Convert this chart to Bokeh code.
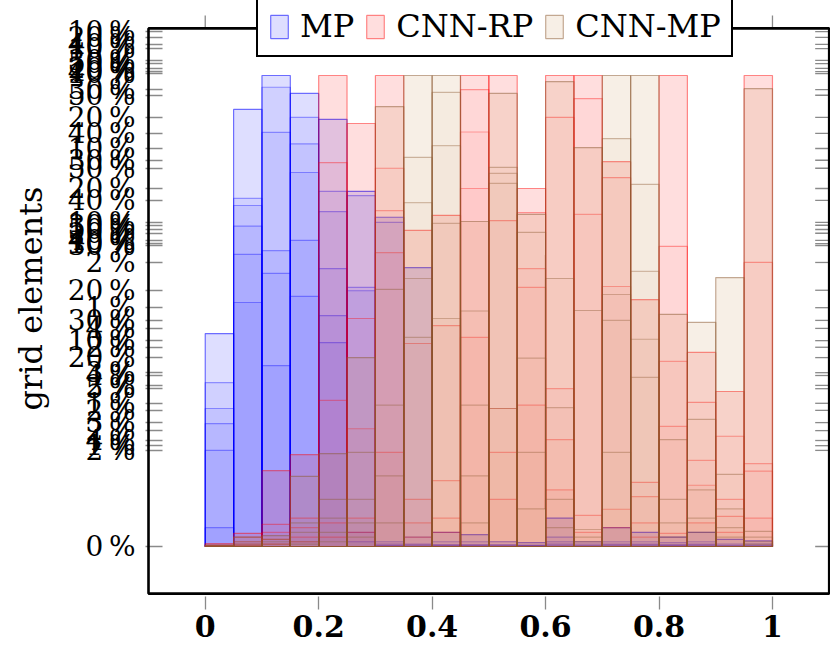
from bokeh.plotting import figure
from bokeh.models import (Range1d, LinearAxis, FixedTicker, Legend, LegendItem,
                          ColumnDataSource, BoxAnnotation)
from bokeh.embed import file_html
from bokeh.resources import INLINE

# ---------------- data ----------------
bin_left = [0.00, 0.05, 0.10, 0.15, 0.20, 0.25, 0.30, 0.35, 0.40, 0.45,
            0.50, 0.55, 0.60, 0.65, 0.70, 0.75, 0.80, 0.85, 0.90, 0.95]
bin_right = [0.05, 0.10, 0.15, 0.20, 0.25, 0.30, 0.35, 0.40, 0.45, 0.50,
             0.55, 0.60, 0.65, 0.70, 0.75, 0.80, 0.85, 0.90, 0.95, 1.00]

# MP layers (normalised share per bin)
mp_1 = [0.452, 0.928, 1.000, 0.962, 0.907, 0.754, 0.699, 0.592, 0.030, 0.025,
        0.010, 0.008, 0.060, 0.010, 0.040, 0.030, 0.020, 0.030, 0.015, 0.012]
mp_2 = [0.348, 0.739, 0.975, 0.911, 0.754, 0.745, 0.688, 0.020, 0.010, 0.010,
        0.004, 0.003, 0.020, 0.005, 0.010, 0.010, 0.008, 0.010, 0.005, 0.005]
mp_3 = [0.293, 0.724, 0.879, 0.855, 0.711, 0.550, 0.010, 0.005, 0.004, 0.004,
        0.002, 0.002, 0.010, 0.002, 0.005, 0.005, 0.004, 0.005, 0.002, 0.002]
mp_4 = [0.261, 0.680, 0.628, 0.794, 0.590, 0.543, 0.005, 0.003, 0.002, 0.002,
        0.001, 0.001, 0.005, 0.001, 0.003, 0.003, 0.002, 0.003, 0.001, 0.001]
mp_5 = [0.204, 0.620, 0.580, 0.650, 0.490, 0.030, 0.002, 0.001, 0.001, 0.001,
        0.000, 0.000, 0.002, 0.000, 0.001, 0.001, 0.001, 0.001, 0.000, 0.000]
mp_6 = [0.040, 0.518, 0.384, 0.531, 0.433, 0.010, 0.001, 0.000, 0.000, 0.000,
        0.000, 0.000, 0.000, 0.000, 0.000, 0.000, 0.000, 0.000, 0.000, 0.000]

# CNN-RP layers
rp_1 = [0.006, 0.028, 0.161, 0.195, 1.000, 0.898, 1.000, 0.671, 0.703, 1.000,
        1.000, 0.760, 1.000, 1.000, 0.817, 0.524, 1.000, 0.412, 0.329, 1.000]
rp_2 = [0.003, 0.020, 0.047, 0.060, 0.815, 0.484, 0.803, 0.431, 0.469, 0.970,
        0.692, 0.709, 0.911, 0.951, 0.783, 0.136, 0.637, 0.306, 0.234, 0.603]
rp_3 = [0.002, 0.010, 0.030, 0.040, 0.310, 0.250, 0.713, 0.100, 0.140, 0.880,
        0.293, 0.590, 0.335, 0.705, 0.552, 0.106, 0.393, 0.183, 0.100, 0.176]
rp_4 = [0.001, 0.005, 0.015, 0.020, 0.050, 0.060, 0.624, 0.050, 0.060, 0.760,
        0.200, 0.550, 0.227, 0.066, 0.079, 0.050, 0.255, 0.130, 0.064, 0.160]
rp_5 = [0.000, 0.002, 0.005, 0.010, 0.020, 0.030, 0.200, 0.020, 0.030, 0.444,
        0.100, 0.300, 0.120, 0.030, 0.040, 0.020, 0.028, 0.050, 0.030, 0.060]

# CNN-MP layers
cm_1 = [0.003, 0.020, 0.023, 0.149, 0.197, 0.401, 0.934, 1.000, 1.000, 0.690,
        0.962, 0.705, 0.987, 0.847, 1.000, 1.000, 0.493, 0.476, 0.571, 0.972]
cm_2 = [0.002, 0.010, 0.015, 0.050, 0.100, 0.200, 0.546, 0.826, 0.964, 0.500,
        0.805, 0.667, 0.569, 0.501, 0.866, 0.769, 0.227, 0.270, 0.153, 0.032]
cm_3 = [0.001, 0.005, 0.010, 0.030, 0.060, 0.100, 0.300, 0.730, 0.851, 0.300,
        0.792, 0.400, 0.295, 0.036, 0.535, 0.584, 0.100, 0.120, 0.080, 0.020]
cm_4 = [0.000, 0.002, 0.005, 0.010, 0.030, 0.050, 0.150, 0.569, 0.686, 0.150,
        0.771, 0.200, 0.100, 0.020, 0.480, 0.440, 0.050, 0.060, 0.040, 0.010]
cm_5 = [0.000, 0.000, 0.000, 0.005, 0.010, 0.020, 0.050, 0.444, 0.484, 0.050,
        0.293, 0.080, 0.040, 0.010, 0.200, 0.359, 0.020, 0.030, 0.020, 0.005]

series_names = ["MP", "CNN-RP", "CNN-MP"]
series_layers = [[mp_1, mp_2, mp_3, mp_4, mp_5, mp_6],
                 [rp_1, rp_2, rp_3, rp_4, rp_5],
                 [cm_1, cm_2, cm_3, cm_4, cm_5]]

# y tick positions (overlapping axes of the original) and their labels
y_tick_values = [0.0, 0.204, 0.214, 0.225, 0.246, 0.263, 0.289, 0.304, 0.335, 0.342,
                 0.363, 0.369, 0.401, 0.423, 0.437, 0.463, 0.480, 0.507, 0.544, 0.603,
                 0.639, 0.643, 0.650, 0.665, 0.673, 0.682, 0.688, 0.735, 0.760, 0.803,
                 0.820, 0.845, 0.877, 0.911, 0.958, 0.970, 1.004, 1.008, 1.015, 1.025,
                 1.032, 1.057, 1.066, 1.081, 1.093]
y_tick_labels = ["0\u2009%", "2\u2009%", "1\u2009%", "4\u2009%", "2\u2009%", "3\u2009%", "2\u2009%", "1\u2009%", "5\u2009%", "2\u2009%",
                 "4\u2009%", "3\u2009%", "20\u2009%", "2\u2009%", "10\u2009%", "4\u2009%", "30\u2009%", "1\u2009%", "20\u2009%", "2\u2009%",
                 "30\u2009%", "10\u2009%", "40\u2009%", "20\u2009%", "50\u2009%", "30\u2009%", "10\u2009%", "40\u2009%", "20\u2009%", "50\u2009%",
                 "30\u2009%", "10\u2009%", "40\u2009%", "20\u2009%", "50\u2009%", "30\u2009%", "10\u2009%", "40\u2009%", "20\u2009%", "50\u2009%",
                 "30\u2009%", "10\u2009%", "40\u2009%", "20\u2009%", "10\u2009%"]

x_tick_values = [0, 0.2, 0.4, 0.6, 0.8, 1]
x_tick_labels = ["0", "0.2", "0.4", "0.6", "0.8", "1"]

# axis box limits (the drawn frame) and the visible window
box_x = (-0.1, 1.1)
box_y = (-0.1, 1.1)
view_x = (-0.1053, 1.1023)
view_y = (-0.1062, 1.1592)
top_tick_end = 1.1274      # outer end of the mirrored x ticks above the box
right_tick_start = 1.0753  # inner end of the mirrored y ticks on the right

# ---------------- styles ----------------
fill_colors = ["#0000ff", "#ff0000", "#bf8040"]
line_colors = ["#0000ff", "#ff0000", "#8c5a32"]
layer_fill_alpha = [[0.13, 0.06, 0.06, 0.06, 0.06, 0.06],
                    [0.13, 0.03, 0.03, 0.03, 0.03],
                    [0.13, 0.03, 0.03, 0.03, 0.03]]
layer_line_alpha = [[0.55, 0.35, 0.35, 0.35, 0.35, 0.35],
                    [0.45, 0.35, 0.3, 0.3, 0.3],
                    [0.5, 0.4, 0.35, 0.35, 0.35]]
serif = "DejaVu Serif"
tick_gray = "#8a8a8a"

p = figure(width=830, height=655,
           x_range=Range1d(*view_x), y_range=Range1d(*view_y),
           output_backend="svg", toolbar_location=None,
           x_axis_location=None, y_axis_location=None,
           min_border_left=145, min_border_right=0,
           min_border_top=0, min_border_bottom=59)
p.grid.visible = False
p.outline_line_color = None
p.background_fill_color = "white"
p.border_fill_color = "white"

legend_items = []
for name, layers, alphas, lalphas, fc, lc in zip(series_names, series_layers, layer_fill_alpha,
                                                 layer_line_alpha, fill_colors, line_colors):
    first = None
    for k, layer in enumerate(layers):
        src = ColumnDataSource(dict(left=bin_left, right=bin_right,
                                    bottom=[0.0] * len(layer), top=layer))
        r = p.quad(left="left", right="right", bottom="bottom", top="top", source=src,
                   fill_color=fc, fill_alpha=alphas[k],
                   line_color=lc, line_alpha=lalphas[k], line_width=1.2)
        if first is None:
            first = r
    legend_items.append(LegendItem(label=name, renderers=[first]))

# mirrored ticks: top x ticks (outside the box) and right y ticks (inside)
p.segment(x0=x_tick_values, x1=x_tick_values,
          y0=[box_y[1]] * len(x_tick_values), y1=[top_tick_end] * len(x_tick_values),
          line_color=tick_gray, line_width=1.3)
p.segment(x0=[right_tick_start] * len(y_tick_values), x1=[box_x[1]] * len(y_tick_values),
          y0=y_tick_values, y1=y_tick_values,
          line_color=tick_gray, line_width=1.3)

# axis box
p.add_layout(BoxAnnotation(left=box_x[0], right=box_x[1], bottom=box_y[0], top=box_y[1],
                           fill_color=None, fill_alpha=0, line_color="black",
                           line_alpha=1, line_width=2.6, line_dash="solid",
                           level="overlay"))

# left y axis with the overlapping labels
yl = LinearAxis(ticker=FixedTicker(ticks=y_tick_values),
                major_label_overrides=dict(zip(y_tick_values, y_tick_labels)),
                axis_label="grid elements")
xb = LinearAxis(ticker=FixedTicker(ticks=x_tick_values),
                major_label_overrides=dict(zip(x_tick_values, x_tick_labels)))

for ax in (yl, xb):
    ax.axis_line_color = None
    ax.minor_tick_line_color = None
    ax.major_tick_line_color = tick_gray
    ax.major_tick_line_width = 1.3

yl.major_tick_in = 17
yl.major_tick_out = 0
yl.major_label_text_font = serif
yl.major_label_text_font_size = "28px"
yl.major_label_text_color = "black"
yl.major_label_standoff = 10
yl.axis_label_text_font = serif
yl.axis_label_text_font_size = "32px"
yl.axis_label_text_font_style = "normal"
yl.axis_label_text_color = "black"
yl.axis_label_standoff = 15

xb.major_tick_in = 0
xb.major_tick_out = 13
xb.major_label_text_font = serif
xb.major_label_text_font_style = "bold"
xb.major_label_text_font_size = "30px"
xb.major_label_text_color = "black"
xb.major_label_standoff = 5

p.add_layout(yl, "left")
p.add_layout(xb, "below")

legend = Legend(items=legend_items, orientation="horizontal",
                location=(111, 539),
                label_text_font=serif, label_text_font_size="32px",
                label_text_color="black",
                label_standoff=10, glyph_width=22, glyph_height=29,
                spacing=10, padding=10, margin=0,
                border_line_color="black", border_line_width=2, border_line_alpha=1,
                background_fill_color="white", background_fill_alpha=1)
p.add_layout(legend, "center")

open("out.html", "w").write(file_html(p, INLINE))
